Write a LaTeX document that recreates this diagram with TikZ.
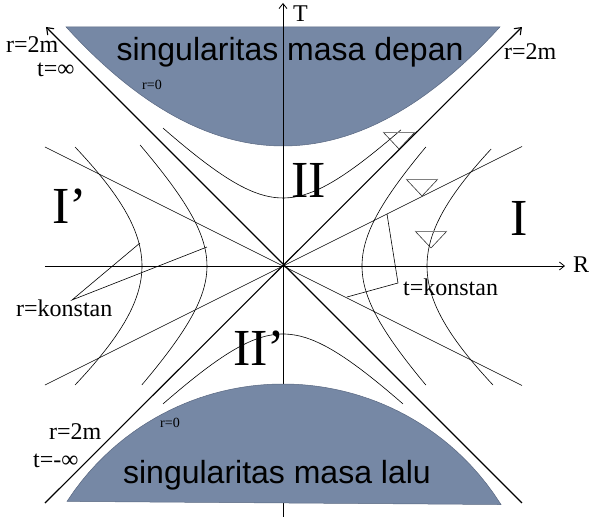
\documentclass[tikz,border=0pt]{standalone}
\usepackage{fontspec}
\setmainfont{Liberation Serif}
\newfontfamily\singfont{Liberation Sans}
\usetikzlibrary{arrows.meta}
\definecolor{singblue}{RGB}{118,136,165}
\definecolor{singedge}{RGB}{88,102,128}
\begin{document}
\begin{tikzpicture}[x=10pt, y=10pt]
% Define styles
\tikzset{
    curve/.style={line width=0.6pt},
    axis/.style={line width=0.8pt, -{Straight Barb[length=5pt,width=8pt]}},
    horizon/.style={line width=1.1pt, -{Straight Barb[length=6pt,width=9pt]}},
    singular/.style={fill=singblue, draw=singedge, line width=0.5pt},
    cone/.style={line width=0.6pt, draw=black!80},
    note/.style={font=\fontsize{24}{28}\selectfont, inner sep=0pt},
    tiny/.style={font=\fontsize{14}{16}\selectfont, inner sep=0pt},
    region/.style={font=\fontsize{52}{60}\selectfont, inner sep=0pt},
    singtext/.style={font=\singfont\fontsize{32}{38}\selectfont, inner sep=0pt}
}
\useasboundingbox (-28.3,-25.1) rectangle (30.7,26.6);

% Future singularity
\path[singular] plot[domain=-21.7:21.7, samples=60] (\x, {12+0.0253*\x*\x}) -- cycle;

% Axes
\draw[axis] (-23.8,0) -- (28.2,0);
\draw[axis] (0,-25.1) -- (0,26.3);

% Horizons r=2m
\draw[horizon] (23.9,-23.7) -- (-23.7,23.9);
\draw[horizon] (-23.8,-23.7) -- (23.9,23.9);

% Lines t = konstan
\draw[curve] (-23.8,-11.9) -- (23.9,11.95);
\draw[curve] (-23.8,11.9) -- (23.9,-11.95);

% Curves r = konstan in I and I'
\draw[curve] plot[domain=-11.9:11.9, samples=50] ({sqrt(\x*\x+7.9*7.9)}, \x);
\draw[curve] plot[domain=-11.9:11.7, samples=50] ({sqrt(1.65*\x*\x+14.4*14.4)}, \x);
\draw[curve] plot[domain=-11.9:12.1, samples=50] ({-sqrt(\x*\x+7.6*7.6)}, \x);
\draw[curve] plot[domain=-11.9:11.9, samples=50] ({-sqrt(1.65*\x*\x+14.1*14.1)}, \x);

% Curves r = konstan in II and II'
\draw[curve] plot[domain=-12:11.8, samples=50] (\x, {sqrt(\x*\x+6.8*6.8)});
\draw[curve] plot[domain=-12:12, samples=50] (\x, {-sqrt(\x*\x+6.8*6.8)});

% Past singularity
\path[singular] plot[domain=-21.6:21.8, samples=60] (\x, {-37.54+sqrt(662.55-\x*\x)}) -- cycle;

% Light cones
\foreach \cx/\cy in {11.6/11.7, 13.9/7.0, 14.8/1.8} {
    \draw[cone] (\cx,\cy) -- ++(-1.6,1.7);
    \draw[cone] (\cx,\cy) -- ++(1.6,1.7);
    \draw[gray, line width=0.8pt] (\cx-1.6,\cy+1.7) -- (\cx+1.6,\cy+1.7);
}

% Axis labels
\node[note, anchor=west] (tlab) at (1.0,25.2) {T};
\node[note, anchor=west] (rlab) at (29.0,0.1) {R};

% Horizon labels
\node[note, anchor=west] (hzA) at (-27.7,22.1) {r=2m};
\node[note, anchor=west] (hzB) at (-24.6,19.6) {t=∞};
\node[note, anchor=west] (hzC) at (22.1,21.4) {r=2m};
\node[note, anchor=west] (hzD) at (-23.4,-16.6) {r=2m};
\node[note, anchor=west] (hzE) at (-25.0,-19.5) {t=-∞};

% r=0
\node[tiny, anchor=west] (rzTop) at (-14.1,18.1) {r=0};
\node[tiny, anchor=west] (rzBot) at (-12.3,-15.7) {r=0};

% Regions
\node[region] (regI) at (23.6,4.8) {I};
\node[region] (regIp) at (-21.3,6.0) {I’};
\node[region] (regII) at (2.6,8.6) {II};
\node[region] (regIIp) at (-2.4,-8.2) {II’};

% Singularity texts
\node[singtext] (singF) at (0.7,21.4) {singularitas masa depan};
\node[singtext] (singP) at (-0.6,-20.9) {singularitas masa lalu};

% Pointers
\node[note, anchor=west] (rkon) at (-26.7,-4.2) {r=konstan};
\node[note, anchor=west] (tkon) at (12.0,-2.1) {t=konstan};
\coordinate (rkTip) at (-21.1,-3.4);
\coordinate (rkOut) at (-14.3,2.3);
\coordinate (rkIn) at (-7.6,1.9);
\coordinate (tkTip) at (11.5,-1.7);
\coordinate (tkUp) at (10.4,5.2);
\coordinate (tkDown) at (6.4,-3.1);
\draw[curve] (rkOut) -- (rkTip) -- (rkIn);
\draw[curve] (tkUp) -- (tkTip) -- (tkDown);

\end{tikzpicture}
\end{document}
